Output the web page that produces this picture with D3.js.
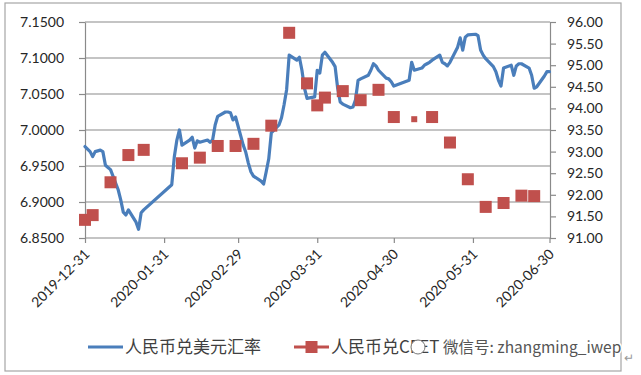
<!DOCTYPE html>
<html>
<head>
<meta charset="utf-8">
<script src="https://cdn.jsdelivr.net/npm/d3@7"></script>
<style>
body{margin:0;background:#fff;}
text{font-family:Lato,"Noto Sans CJK SC",sans-serif;}
</style>
</head>
<body>
<svg width="641" height="375"></svg>
<script>
// USD/CNY daily (left axis)
var usdCny = [
  ["2019-12-31",6.977],["2020-01-02",6.970],["2020-01-03",6.963],["2020-01-04",6.970],
  ["2020-01-06",6.972],["2020-01-07",6.970],["2020-01-08",6.951],["2020-01-09",6.948],
  ["2020-01-10",6.945],["2020-01-13",6.917],["2020-01-14",6.903],["2020-01-15",6.886],
  ["2020-01-16",6.882],["2020-01-17",6.889],["2020-01-20",6.872],["2020-01-21",6.862],
  ["2020-01-22",6.885],["2020-01-23",6.889],["2020-02-03",6.924],["2020-02-04",6.963],
  ["2020-02-05",6.986],["2020-02-06",7.000],["2020-02-07",6.979],["2020-02-10",6.986],
  ["2020-02-11",6.990],["2020-02-12",6.975],["2020-02-13",6.985],["2020-02-14",6.983],
  ["2020-02-17",6.986],["2020-02-18",6.983],["2020-02-19",6.986],["2020-02-20",7.007],
  ["2020-02-21",7.019],["2020-02-24",7.025],["2020-02-25",7.025],["2020-02-26",7.024],
  ["2020-02-27",7.014],["2020-02-28",7.018],["2020-03-02",6.979],["2020-03-03",6.969],
  ["2020-03-04",6.954],["2020-03-05",6.942],["2020-03-06",6.936],["2020-03-09",6.929],
  ["2020-03-10",6.925],["2020-03-11",6.942],["2020-03-12",6.960],["2020-03-13",6.996],
  ["2020-03-16",7.007],["2020-03-17",7.017],["2020-03-18",7.035],["2020-03-19",7.056],
  ["2020-03-20",7.104],["2020-03-23",7.097],["2020-03-24",7.101],["2020-03-25",7.083],
  ["2020-03-26",7.058],["2020-03-27",7.044],["2020-03-30",7.046],["2020-03-31",7.083],
  ["2020-04-01",7.079],["2020-04-02",7.104],["2020-04-03",7.108],["2020-04-06",7.094],
  ["2020-04-07",7.088],["2020-04-08",7.058],["2020-04-09",7.039],["2020-04-10",7.036],
  ["2020-04-13",7.031],["2020-04-14",7.032],["2020-04-15",7.042],["2020-04-16",7.069],
  ["2020-04-17",7.071],["2020-04-20",7.076],["2020-04-21",7.083],["2020-04-22",7.092],
  ["2020-04-23",7.089],["2020-04-24",7.083],["2020-04-27",7.072],["2020-04-28",7.071],
  ["2020-04-29",7.067],["2020-04-30",7.061],["2020-05-06",7.069],["2020-05-07",7.094],
  ["2020-05-08",7.083],["2020-05-11",7.086],["2020-05-12",7.090],["2020-05-13",7.092],
  ["2020-05-14",7.094],["2020-05-15",7.097],["2020-05-18",7.104],["2020-05-19",7.094],
  ["2020-05-20",7.092],["2020-05-21",7.089],["2020-05-22",7.094],["2020-05-25",7.115],
  ["2020-05-26",7.128],["2020-05-27",7.111],["2020-05-28",7.129],["2020-05-29",7.132],
  ["2020-06-01",7.133],["2020-06-02",7.131],["2020-06-03",7.111],["2020-06-04",7.104],
  ["2020-06-05",7.099],["2020-06-08",7.088],["2020-06-09",7.081],["2020-06-10",7.069],
  ["2020-06-11",7.061],["2020-06-12",7.086],["2020-06-15",7.090],["2020-06-16",7.076],
  ["2020-06-17",7.089],["2020-06-18",7.092],["2020-06-19",7.092],["2020-06-22",7.086],
  ["2020-06-23",7.076],["2020-06-24",7.058],["2020-06-25",7.060],["2020-06-28",7.075],
  ["2020-06-29",7.081],["2020-06-30",7.081]
];

// CFETS index weekly (right axis)
var cfetsDates = ["2019-12-31","2020-01-03","2020-01-10","2020-01-17","2020-01-23",
  "2020-02-07","2020-02-14","2020-02-21","2020-02-28","2020-03-06","2020-03-13",
  "2020-03-20","2020-03-27","2020-03-31","2020-04-03","2020-04-10","2020-04-17",
  "2020-04-24","2020-04-30","2020-05-08","2020-05-15","2020-05-22","2020-05-29",
  "2020-06-05","2020-06-12","2020-06-19","2020-06-24"];
var cfetsValues = [91.42,91.53,92.29,92.92,93.04,
  92.73,92.86,93.13,93.13,93.18,93.60,
  95.75,94.58,94.07,94.25,94.40,94.19,
  94.43,93.80,93.75,93.80,93.21,92.36,
  91.72,91.81,91.98,91.97];

var leftTicks = [6.85,6.90,6.95,7.00,7.05,7.10,7.15];
var rightTicks = [91,91.5,92,92.5,93,93.5,94,94.5,95,95.5,96];
var xTickDates = ["2019-12-31","2020-01-31","2020-02-29","2020-03-31","2020-04-30","2020-05-31","2020-06-30"];
var seriesNames = ["人民币兑美元汇率","人民币兑CFET"];
var watermark = "微信号: zhangming_iwep";

var parse = d3.timeParse("%Y-%m-%d");
var svg = d3.select("svg");
var margin = {top:22,bot:238,left:85,right:550};
var axisColor = "#8a8a8a";
var blue = "#4a7ebb", red = "#c0504d";

// outer frame
svg.append("rect")
   .attr("x",5).attr("y",3).attr("width",616).attr("height",368)
   .attr("fill","none").attr("stroke","#a6a6a6").attr("stroke-width",1.2);

var xScale = d3.scaleTime()
   .domain([parse("2019-12-31"),parse("2020-06-30")])
   .range([margin.left,549.5]);
var yLeft = d3.scaleLinear().domain([6.85,7.15]).range([margin.bot,margin.top]);
var yRight = d3.scaleLinear().domain([91,96]).range([margin.bot,margin.top]);

// gridlines
svg.append("g").selectAll("line")
   .data(leftTicks.slice(1))
   .enter().append("line")
   .attr("x1",margin.left).attr("x2",margin.right)
   .attr("y1",function(d){return yLeft(d);})
   .attr("y2",function(d){return yLeft(d);})
   .attr("stroke",axisColor).attr("stroke-width",1.2);

function styleAxis(g){
  g.select(".domain").attr("stroke",axisColor).attr("stroke-width",1.2);
  g.selectAll(".tick line").attr("stroke",axisColor).attr("stroke-width",1.2);
  g.selectAll(".tick text").attr("fill","#262626").style("font-size","14px")
   .style("font-family","Lato,sans-serif");
}

svg.append("g")
   .attr("transform","translate("+margin.left+",0)")
   .call(d3.axisLeft(yLeft).tickValues(leftTicks).tickFormat(d3.format(".4f"))
         .tickSize(6).tickSizeOuter(0).tickPadding(15))
   .call(styleAxis);

svg.append("g")
   .attr("transform","translate("+margin.right+",0)")
   .call(d3.axisRight(yRight).tickValues(rightTicks).tickFormat(d3.format(".2f"))
         .tickSize(6).tickSizeOuter(0).tickPadding(11))
   .call(styleAxis);

var xAxisG = svg.append("g")
   .attr("transform","translate(0,"+margin.bot+")")
   .call(d3.axisBottom(xScale).tickValues(xTickDates.map(parse))
         .tickFormat(d3.timeFormat("%Y-%m-%d")).tickSize(5).tickSizeOuter(0))
   .call(styleAxis);
xAxisG.select(".domain").attr("d","M"+margin.left+",0H"+margin.right);
xAxisG.selectAll(".tick text")
   .attr("text-anchor","end")
   .attr("x",0).attr("y",0).attr("dy",null)
   .attr("transform","translate(5,17) rotate(-45)");

// USD/CNY line
var lineMaker = d3.line()
   .x(function(d){return xScale(parse(d[0]));})
   .y(function(d){return yLeft(d[1]);});
svg.append("path")
   .attr("d",lineMaker(usdCny))
   .attr("fill","none").attr("stroke",blue).attr("stroke-width",3.2)
   .attr("stroke-linejoin","round").attr("stroke-linecap","round");

// CFETS squares
svg.append("g").selectAll("rect")
   .data(cfetsDates.map(function(d,i){return {date:parse(d),v:cfetsValues[i],key:d};}))
   .enter().append("rect")
   .each(function(d){
     var s = d.key==="2020-05-08" ? 6 : 12;
     d3.select(this)
       .attr("x",xScale(d.date)-s/2).attr("y",yRight(d.v)-s/2)
       .attr("width",s).attr("height",s);
   })
   .attr("fill",red);

// legend
var ly = 347;
svg.append("line").attr("x1",88).attr("x2",123).attr("y1",ly).attr("y2",ly)
   .attr("stroke",blue).attr("stroke-width",3.2);
svg.append("text").attr("x",125).attr("y",ly+6).text(seriesNames[0])
   .attr("fill","#404040").style("font-size","17px").style("font-family","'Noto Sans CJK SC'");
svg.append("line").attr("x1",294).attr("x2",329).attr("y1",ly).attr("y2",ly)
   .attr("stroke",red).attr("stroke-width",3.2);
svg.append("rect").attr("x",305.5).attr("y",ly-6).attr("width",12).attr("height",12).attr("fill",red);
svg.append("text").attr("x",331).attr("y",ly+6).text(seriesNames[1])
   .attr("fill","#404040").style("font-size","17px").style("font-family","'Noto Sans CJK SC'");

// watermark
svg.append("circle").attr("cx",418).attr("cy",ly).attr("r",7)
   .attr("fill","#fff").attr("stroke","#777").attr("stroke-width",1);
svg.append("text").attr("x",443).attr("y",ly+6).text(watermark)
   .attr("fill","#555").attr("stroke","#fff").attr("stroke-width",3)
   .attr("paint-order","stroke")
   .style("font-size","15.5px").style("font-family","'Noto Sans CJK SC'");
svg.append("text").attr("x",624).attr("y",362).text("↵")
   .attr("fill","#999").style("font-size","12px");
</script>
</body>
</html>
